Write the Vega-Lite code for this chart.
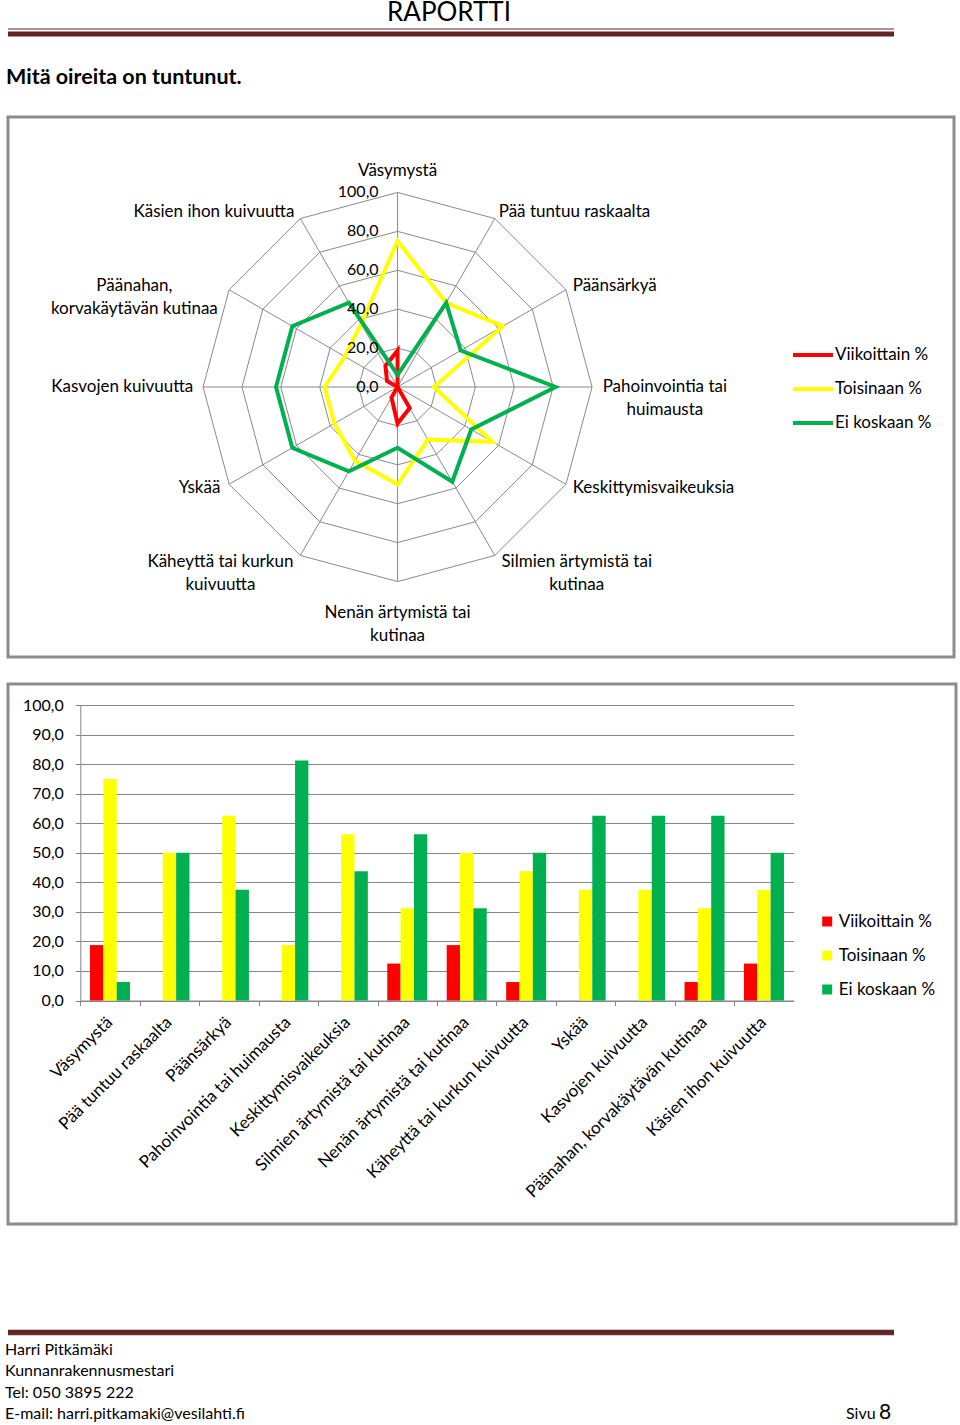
{
  "$schema": "https://vega.github.io/schema/vega-lite/v6.json",
  "padding": {"left": 4, "top": 0, "right": 0, "bottom": 0},
  "background": "white",
  "spacing": 28,
  "config": {
    "font": "Lato",
    "view": {"stroke": null},
    "locale": {"number": {"decimal": ",", "thousands": " ", "grouping": [3], "currency": ["", " €"]}},
    "axis": {"labelColor": "#000", "labelFont": "Lato"},
    "legend": {"labelColor": "#000", "labelFont": "Lato"}
  },
  "resolve": {
    "scale": {"x": "independent", "y": "independent", "color": "independent"},
    "legend": {"color": "independent"},
    "axis": {"x": "independent", "y": "independent"}
  },
  "datasets": {
    "survey": [
      {"i": 0, "oire": "Väsymystä", "sarja": "Viikoittain %", "arvo": 18.75},
      {"i": 0, "oire": "Väsymystä", "sarja": "Toisinaan %", "arvo": 75},
      {"i": 0, "oire": "Väsymystä", "sarja": "Ei koskaan %", "arvo": 6.25},
      {"i": 1, "oire": "Pää tuntuu raskaalta", "sarja": "Viikoittain %", "arvo": 0},
      {"i": 1, "oire": "Pää tuntuu raskaalta", "sarja": "Toisinaan %", "arvo": 50},
      {"i": 1, "oire": "Pää tuntuu raskaalta", "sarja": "Ei koskaan %", "arvo": 50},
      {"i": 2, "oire": "Päänsärkyä", "sarja": "Viikoittain %", "arvo": 0},
      {"i": 2, "oire": "Päänsärkyä", "sarja": "Toisinaan %", "arvo": 62.5},
      {"i": 2, "oire": "Päänsärkyä", "sarja": "Ei koskaan %", "arvo": 37.5},
      {"i": 3, "oire": "Pahoinvointia tai huimausta", "sarja": "Viikoittain %", "arvo": 0},
      {"i": 3, "oire": "Pahoinvointia tai huimausta", "sarja": "Toisinaan %", "arvo": 18.75},
      {"i": 3, "oire": "Pahoinvointia tai huimausta", "sarja": "Ei koskaan %", "arvo": 81.25},
      {"i": 4, "oire": "Keskittymisvaikeuksia", "sarja": "Viikoittain %", "arvo": 0},
      {"i": 4, "oire": "Keskittymisvaikeuksia", "sarja": "Toisinaan %", "arvo": 56.25},
      {"i": 4, "oire": "Keskittymisvaikeuksia", "sarja": "Ei koskaan %", "arvo": 43.75},
      {"i": 5, "oire": "Silmien ärtymistä tai kutinaa", "sarja": "Viikoittain %", "arvo": 12.5},
      {"i": 5, "oire": "Silmien ärtymistä tai kutinaa", "sarja": "Toisinaan %", "arvo": 31.25},
      {"i": 5, "oire": "Silmien ärtymistä tai kutinaa", "sarja": "Ei koskaan %", "arvo": 56.25},
      {"i": 6, "oire": "Nenän ärtymistä tai kutinaa", "sarja": "Viikoittain %", "arvo": 18.75},
      {"i": 6, "oire": "Nenän ärtymistä tai kutinaa", "sarja": "Toisinaan %", "arvo": 50},
      {"i": 6, "oire": "Nenän ärtymistä tai kutinaa", "sarja": "Ei koskaan %", "arvo": 31.25},
      {"i": 7, "oire": "Käheyttä tai kurkun kuivuutta", "sarja": "Viikoittain %", "arvo": 6.25},
      {"i": 7, "oire": "Käheyttä tai kurkun kuivuutta", "sarja": "Toisinaan %", "arvo": 43.75},
      {"i": 7, "oire": "Käheyttä tai kurkun kuivuutta", "sarja": "Ei koskaan %", "arvo": 50},
      {"i": 8, "oire": "Yskää", "sarja": "Viikoittain %", "arvo": 0},
      {"i": 8, "oire": "Yskää", "sarja": "Toisinaan %", "arvo": 37.5},
      {"i": 8, "oire": "Yskää", "sarja": "Ei koskaan %", "arvo": 62.5},
      {"i": 9, "oire": "Kasvojen kuivuutta", "sarja": "Viikoittain %", "arvo": 0},
      {"i": 9, "oire": "Kasvojen kuivuutta", "sarja": "Toisinaan %", "arvo": 37.5},
      {"i": 9, "oire": "Kasvojen kuivuutta", "sarja": "Ei koskaan %", "arvo": 62.5},
      {"i": 10, "oire": "Päänahan, korvakäytävän kutinaa", "sarja": "Viikoittain %", "arvo": 6.25},
      {"i": 10, "oire": "Päänahan, korvakäytävän kutinaa", "sarja": "Toisinaan %", "arvo": 31.25},
      {"i": 10, "oire": "Päänahan, korvakäytävän kutinaa", "sarja": "Ei koskaan %", "arvo": 62.5},
      {"i": 11, "oire": "Käsien ihon kuivuutta", "sarja": "Viikoittain %", "arvo": 12.5},
      {"i": 11, "oire": "Käsien ihon kuivuutta", "sarja": "Toisinaan %", "arvo": 37.5},
      {"i": 11, "oire": "Käsien ihon kuivuutta", "sarja": "Ei koskaan %", "arvo": 50}
    ],
    "cats": [
      {"i": 0, "otsikko": "Väsymystä"},
      {"i": 1, "otsikko": "Pää tuntuu raskaalta"},
      {"i": 2, "otsikko": "Päänsärkyä"},
      {"i": 3, "otsikko": "Pahoinvointia tai\nhuimausta"},
      {"i": 4, "otsikko": "Keskittymisvaikeuksia"},
      {"i": 5, "otsikko": "Silmien ärtymistä tai\nkutinaa"},
      {"i": 6, "otsikko": "Nenän ärtymistä tai\nkutinaa"},
      {"i": 7, "otsikko": "Käheyttä tai kurkun\nkuivuutta"},
      {"i": 8, "otsikko": "Yskää"},
      {"i": 9, "otsikko": "Kasvojen kuivuutta"},
      {"i": 10, "otsikko": "Päänahan,\nkorvakäytävän kutinaa"},
      {"i": 11, "otsikko": "Käsien ihon kuivuutta"}
    ],
    "rings": [
      {"r": 0, "k": [0, 1, 2, 3, 4, 5, 6, 7, 8, 9, 10, 11]},
      {"r": 20, "k": [0, 1, 2, 3, 4, 5, 6, 7, 8, 9, 10, 11]},
      {"r": 40, "k": [0, 1, 2, 3, 4, 5, 6, 7, 8, 9, 10, 11]},
      {"r": 60, "k": [0, 1, 2, 3, 4, 5, 6, 7, 8, 9, 10, 11]},
      {"r": 80, "k": [0, 1, 2, 3, 4, 5, 6, 7, 8, 9, 10, 11]},
      {"r": 100, "k": [0, 1, 2, 3, 4, 5, 6, 7, 8, 9, 10, 11]}
    ],
    "footer": [
      {"rivi": 1, "puoli": "vasen", "osa": "teksti", "teksti": "Harri Pitkämäki"},
      {"rivi": 2, "puoli": "vasen", "osa": "teksti", "teksti": "Kunnanrakennusmestari"},
      {"rivi": 3, "puoli": "vasen", "osa": "teksti", "teksti": "Tel: 050 3895 222"},
      {"rivi": 4, "puoli": "vasen", "osa": "teksti", "teksti": "E-mail: harri.pitkamaki@vesilahti.fi"},
      {"rivi": 4, "puoli": "oikea", "osa": "teksti", "teksti": "Sivu"},
      {"rivi": 4, "puoli": "oikea", "osa": "sivunumero", "teksti": "8"}
    ]
  },
  "vconcat": [
    {
      "width": 886,
      "height": 5,
      "title": {"text": "RAPORTTI", "fontSize": 26, "font": "Lato", "fontWeight": "normal", "color": "#000", "anchor": "middle", "dx": -2, "offset": 2},
      "data": {"values": [{}]},
      "layer": [
        {"mark": {"type": "rule", "color": "#622423", "strokeWidth": 1.2},
         "encoding": {"y": {"datum": "ohut", "type": "ordinal", "scale": {"type": "point", "domain": ["ohut", "paksu"], "padding": 0}, "axis": null}}},
        {"mark": {"type": "rule", "color": "#622423", "strokeWidth": 5},
         "encoding": {"y": {"datum": "paksu", "type": "ordinal", "scale": {"type": "point", "domain": ["ohut", "paksu"], "padding": 0}, "axis": null}}}
      ]
    },
    {
      "spacing": 23,
      "resolve": {
        "scale": {"x": "independent", "y": "independent", "color": "independent"},
        "legend": {"color": "independent"},
        "axis": {"x": "independent", "y": "independent"}
      },
      "vconcat": [
        {
          "width": 946,
          "height": 540,
          "view": {"stroke": "#8c8c8c", "strokeWidth": 3},
          "title": {"text": "Mitä oireita on tuntunut.", "fontSize": 21.5, "font": "Lato", "fontWeight": "bold", "color": "#000", "anchor": "start", "dx": -2, "offset": 29},
          "encoding": {
            "x": {"field": "px", "type": "quantitative", "scale": {"domain": [-200.3, 286.1], "nice": false, "zero": false}, "axis": null},
            "y": {"field": "py", "type": "quantitative", "scale": {"domain": [-138.8, 138.8], "nice": false, "zero": false}, "axis": null}
          },
          "layer": [
            {
              "data": {"name": "cats"},
              "transform": [
                {"calculate": "100 * sin(datum.i * PI / 6)", "as": "px"},
                {"calculate": "100 * cos(datum.i * PI / 6)", "as": "py"}
              ],
              "mark": {"type": "rule", "color": "#8a8a8a", "strokeWidth": 1},
              "encoding": {"x2": {"datum": 0}, "y2": {"datum": 0}}
            },
            {
              "data": {"name": "rings"},
              "transform": [
                {"filter": "datum.r > 0"},
                {"flatten": ["k"]},
                {"calculate": "datum.r * sin(datum.k * PI / 6)", "as": "px"},
                {"calculate": "datum.r * cos(datum.k * PI / 6)", "as": "py"}
              ],
              "mark": {"type": "line", "interpolate": "linear-closed", "color": "#8a8a8a", "strokeWidth": 1},
              "encoding": {"detail": {"field": "r"}, "order": {"field": "k"}}
            },
            {
              "data": {"name": "survey"},
              "transform": [
                {"calculate": "datum.arvo * sin(datum.i * PI / 6)", "as": "px"},
                {"calculate": "datum.arvo * cos(datum.i * PI / 6)", "as": "py"}
              ],
              "mark": {"type": "line", "interpolate": "linear-closed", "strokeWidth": 4},
              "encoding": {
                "order": {"field": "i"},
                "color": {
                  "field": "sarja", "type": "nominal",
                  "scale": {"domain": ["Viikoittain %", "Toisinaan %", "Ei koskaan %"], "range": ["#ff0000", "#ffff00", "#00b050"]},
                  "legend": {"title": null, "orient": "none", "legendX": 783, "legendY": 216, "symbolType": "stroke", "symbolSize": 1600, "symbolStrokeWidth": 4, "labelFontSize": 17, "labelOffset": 0, "rowPadding": 4, "padding": 0}
                }
              }
            },
            {
              "data": {"name": "rings"},
              "transform": [
                {"calculate": "0", "as": "px"},
                {"calculate": "datum.r", "as": "py"}
              ],
              "mark": {"type": "text", "align": "right", "baseline": "middle", "dx": -19, "fontSize": 16, "color": "#000"},
              "encoding": {"text": {"field": "r", "type": "quantitative", "format": ".1f"}}
            },
            {
              "data": {"name": "cats"},
              "transform": [
                {"filter": "indexof([1, 2, 4], datum.i) >= 0"},
                {"calculate": "104 * sin(datum.i * PI / 6)", "as": "px"},
                {"calculate": "104 * cos(datum.i * PI / 6)", "as": "py"}
              ],
              "mark": {"type": "text", "align": "left", "baseline": "middle", "fontSize": 17, "color": "#000"},
              "encoding": {"text": {"field": "otsikko"}}
            },
            {
              "data": {"name": "cats"},
              "transform": [
                {"filter": "indexof([8, 9, 11], datum.i) >= 0"},
                {"calculate": "104 * sin(datum.i * PI / 6)", "as": "px"},
                {"calculate": "104 * cos(datum.i * PI / 6)", "as": "py"}
              ],
              "mark": {"type": "text", "align": "right", "baseline": "middle", "dx": -2, "fontSize": 17, "color": "#000"},
              "encoding": {"text": {"field": "otsikko"}}
            },
            {
              "data": {"name": "cats"},
              "transform": [
                {"filter": "datum.i == 0"},
                {"calculate": "104 * sin(datum.i * PI / 6)", "as": "px"},
                {"calculate": "104 * cos(datum.i * PI / 6)", "as": "py"}
              ],
              "mark": {"type": "text", "align": "center", "baseline": "middle", "dy": -14, "fontSize": 17, "color": "#000"},
              "encoding": {"text": {"field": "otsikko"}}
            },
            {
              "data": {"name": "cats"},
              "transform": [
                {"filter": "datum.i == 3"},
                {"calculate": "104 * sin(datum.i * PI / 6)", "as": "px"},
                {"calculate": "104 * cos(datum.i * PI / 6)", "as": "py"}
              ],
              "mark": {"type": "text", "align": "center", "baseline": "middle", "dx": 65, "lineBreak": "\n", "lineHeight": 23, "fontSize": 17, "color": "#000"},
              "encoding": {"text": {"field": "otsikko"}}
            },
            {
              "data": {"name": "cats"},
              "transform": [
                {"filter": "datum.i == 5"},
                {"calculate": "104 * sin(datum.i * PI / 6)", "as": "px"},
                {"calculate": "104 * cos(datum.i * PI / 6)", "as": "py"}
              ],
              "mark": {"type": "text", "align": "center", "baseline": "middle", "dx": 78, "lineBreak": "\n", "lineHeight": 23, "fontSize": 17, "color": "#000"},
              "encoding": {"text": {"field": "otsikko"}}
            },
            {
              "data": {"name": "cats"},
              "transform": [
                {"filter": "datum.i == 6"},
                {"calculate": "104 * sin(datum.i * PI / 6)", "as": "px"},
                {"calculate": "104 * cos(datum.i * PI / 6)", "as": "py"}
              ],
              "mark": {"type": "text", "align": "center", "baseline": "middle", "dy": 24, "lineBreak": "\n", "lineHeight": 23, "fontSize": 17, "color": "#000"},
              "encoding": {"text": {"field": "otsikko"}}
            },
            {
              "data": {"name": "cats"},
              "transform": [
                {"filter": "datum.i == 7"},
                {"calculate": "104 * sin(datum.i * PI / 6)", "as": "px"},
                {"calculate": "104 * cos(datum.i * PI / 6)", "as": "py"}
              ],
              "mark": {"type": "text", "align": "center", "baseline": "middle", "dx": -76, "lineBreak": "\n", "lineHeight": 23, "fontSize": 17, "color": "#000"},
              "encoding": {"text": {"field": "otsikko"}}
            },
            {
              "data": {"name": "cats"},
              "transform": [
                {"filter": "datum.i == 10"},
                {"calculate": "104 * sin(datum.i * PI / 6)", "as": "px"},
                {"calculate": "104 * cos(datum.i * PI / 6)", "as": "py"}
              ],
              "mark": {"type": "text", "align": "center", "baseline": "middle", "dx": -88, "lineBreak": "\n", "lineHeight": 23, "fontSize": 17, "color": "#000"},
              "encoding": {"text": {"field": "otsikko"}}
            }
          ]
        },
        {
          "width": 948,
          "height": 540,
          "view": {"stroke": "#8c8c8c", "strokeWidth": 3},
          "data": {"name": "survey"},
          "mark": {"type": "bar"},
          "encoding": {
            "x": {
              "field": "oire", "type": "nominal",
              "sort": ["Väsymystä", "Pää tuntuu raskaalta", "Päänsärkyä", "Pahoinvointia tai huimausta", "Keskittymisvaikeuksia", "Silmien ärtymistä tai kutinaa", "Nenän ärtymistä tai kutinaa", "Käheyttä tai kurkun kuivuutta", "Yskää", "Kasvojen kuivuutta", "Päänahan, korvakäytävän kutinaa", "Käsien ihon kuivuutta"],
              "scale": {"range": [72.3, 785.7], "paddingInner": 0.327, "paddingOuter": 0.1635},
              "axis": {"title": null, "offset": -223.5, "labelAngle": -45, "labelAlign": "right", "labelBaseline": "middle", "labelFontSize": 17, "labelLimit": 500, "labelPadding": 14, "tickSize": 5, "tickOffset": -29.7, "labelOffset": 29, "domainColor": "#868686", "tickColor": "#868686"}
            },
            "xOffset": {"field": "sarja", "type": "nominal", "sort": ["Viikoittain %", "Toisinaan %", "Ei koskaan %"], "scale": {"paddingInner": 0, "paddingOuter": 0}},
            "y": {
              "field": "arvo", "type": "quantitative", "stack": null,
              "scale": {"domain": [0, 100], "range": [316.5, 21], "nice": false},
              "axis": {"title": null, "values": [0, 10, 20, 30, 40, 50, 60, 70, 80, 90, 100], "format": ".1f", "offset": -72.3, "grid": true, "gridColor": "#868686", "domainColor": "#868686", "tickColor": "#868686", "tickSize": 5, "labelPadding": 12, "labelFontSize": 16}
            },
            "color": {
              "field": "sarja", "type": "nominal",
              "scale": {"domain": ["Viikoittain %", "Toisinaan %", "Ei koskaan %"], "range": ["#ff0000", "#ffff00", "#00b050"]},
              "legend": {"title": null, "orient": "none", "legendX": 810.7, "legendY": 229, "symbolType": "square", "symbolSize": 100, "labelFontSize": 17, "labelOffset": 3, "rowPadding": 16, "padding": 0}
            }
          }
        }
      ]
    },
    {
      "spacing": 0,
      "vconcat": [
        {
          "width": 886,
          "height": 82,
          "data": {"values": [{}]},
          "layer": [
            {"mark": {"type": "rule", "color": "#622423", "strokeWidth": 5},
             "encoding": {"y": {"datum": "paksu", "type": "ordinal", "scale": {"type": "point", "domain": ["paksu", "ohut"], "range": [77, 82]}, "axis": null}}},
            {"mark": {"type": "rule", "color": "#622423", "strokeWidth": 1.2},
             "encoding": {"y": {"datum": "ohut", "type": "ordinal", "scale": {"type": "point", "domain": ["paksu", "ohut"], "range": [77, 82]}, "axis": null}}}
          ]
        },
        {
          "width": 886,
          "height": 80,
          "data": {"name": "footer"},
          "encoding": {
            "x": {"field": "puoli", "type": "nominal", "scale": {"type": "point", "domain": ["vasen", "oikea"], "range": [-3, 838], "padding": 0}, "axis": null},
            "y": {"field": "rivi", "type": "ordinal", "scale": {"type": "point", "domain": [1, 2, 3, 4], "range": [14, 78], "padding": 0}, "axis": null},
            "text": {"field": "teksti"}
          },
          "layer": [
            {"transform": [{"filter": "datum.osa == 'teksti'"}],
             "mark": {"type": "text", "align": "left", "baseline": "middle", "fontSize": 16, "color": "#000"}},
            {"transform": [{"filter": "datum.osa == 'sivunumero'"}],
             "mark": {"type": "text", "align": "left", "baseline": "middle", "dx": 33, "dy": -1, "fontSize": 21, "color": "#000"}}
          ]
        }
      ]
    }
  ]
}
